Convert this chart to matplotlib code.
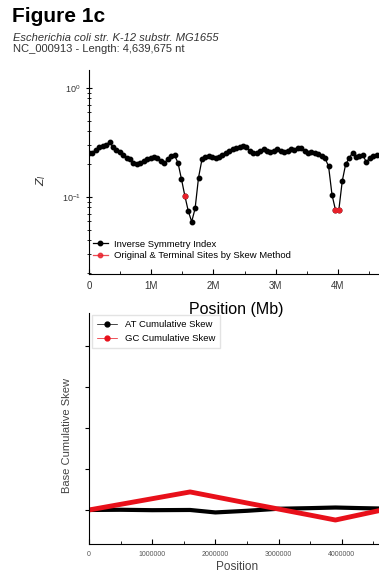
import numpy as np
import matplotlib.pyplot as plt
from matplotlib.ticker import FixedLocator, NullFormatter, LogLocator

plt.rcParams['font.family'] = ['Liberation Sans', 'DejaVu Sans']

# ==============================
# Data
# ==============================
# Inverse symmetry index, windows every 55 kb
window_step = 55000
isi_values = [
    0.25, 0.255, 0.27, 0.285, 0.295, 0.30, 0.32, 0.285, 0.27, 0.26,
    0.24, 0.225, 0.22, 0.205, 0.20, 0.205, 0.215, 0.22, 0.225, 0.23,
    0.225, 0.215, 0.205, 0.22, 0.235, 0.24, 0.205, 0.146, 0.102, 0.074,
    0.059, 0.078, 0.15, 0.22, 0.23, 0.235, 0.23, 0.225, 0.23, 0.24,
    0.255, 0.265, 0.275, 0.28, 0.285, 0.29, 0.285, 0.265, 0.25, 0.255,
    0.265, 0.275, 0.265, 0.26, 0.265, 0.275, 0.265, 0.26, 0.265, 0.275,
    0.27, 0.28, 0.28, 0.265, 0.255, 0.26, 0.255, 0.245, 0.235, 0.225,
    0.19, 0.104, 0.076, 0.076, 0.14, 0.20, 0.225, 0.255, 0.23, 0.235,
    0.24, 0.21, 0.225, 0.235, 0.24,
]
isi_pos = np.arange(len(isi_values)) * window_step

# ori / ter sites found by the skew method
site_pos = [1540000, 3960000, 4015000]
site_values = [0.102, 0.076, 0.076]

# cumulative skews
skew_pos = [0, 500000, 1000000, 1600000, 2000000, 2500000, 3000000,
            3500000, 3900000, 4300000, 4640000]
gc_skew = [0, 2750, 5500, 8800, 6400, 3400, 450, -2500, -4900, -2250, 0]
at_skew = [0, 100, -100, 0, -1200, -400, 600, 900, 1200, 900, 700]

x_ticks_top = [0, 1000000, 2000000, 3000000, 4000000]
x_labels_top = ["0", "1M", "2M", "3M", "4M"]
x_ticks_bot = [0, 1000000, 2000000, 3000000, 4000000]
x_labels_bot = ["0", "1000000", "2000000", "3000000", "4000000"]
minor_x = [500000, 1500000, 2500000, 3500000, 4500000]

# ==============================
# Figure
# ==============================
W, H = 379, 574
fig = plt.figure(figsize=(W / 100, H / 100), dpi=100)

fig.text(12 / W, 1 - 16 / H, "Figure 1c", fontsize=15, fontweight='bold',
         va='center', ha='left')
fig.text(13 / W, 1 - 38 / H, "Escherichia coli str. K-12 substr. MG1655",
         fontsize=8, style='italic', va='center', ha='left', color='#333333')
fig.text(13 / W, 1 - 48.5 / H, "NC_000913 - Length: 4,639,675 nt",
         fontsize=8, va='center', ha='left', color='#333333')

# ---------- top panel ----------
ax1 = fig.add_axes([89 / W, 1 - 274 / H, (W - 89) / W, 204 / H])
ax1.plot(isi_pos, isi_values, color='black', lw=0.9, marker='o', ms=3.2,
         label='Inverse Symmetry Index')
ax1.plot(site_pos, site_values, color='#e8202a', lw=0.9, marker='o', ms=3.2,
         ls='none', label='Original & Terminal Sites by Skew Method')
ax1.plot(site_pos[1:], site_values[1:], color='#e8202a', lw=0.9)
ax1.set_yscale('log')
ax1.set_ylim(10 ** -1.71, 10 ** 0.165)
ax1.set_xlim(0, 4.66e6)
for s in ['top', 'right']:
    ax1.spines[s].set_visible(False)
ax1.xaxis.set_major_locator(FixedLocator(x_ticks_top))
ax1.set_xticklabels(x_labels_top)
ax1.xaxis.set_minor_locator(FixedLocator(minor_x))
ax1.tick_params(axis='x', which='both', direction='in', labelsize=7, pad=5,
                labelcolor='#333333')
ax1.tick_params(axis='y', which='major', direction='inout', length=5, labelsize=6.5,
                labelcolor='#333333')
ax1.tick_params(axis='y', which='minor', direction='inout', length=2.5)
ax1.yaxis.set_minor_locator(LogLocator(base=10, subs=np.arange(2, 10)))
ax1.yaxis.set_minor_formatter(NullFormatter())
ax1.set_xlabel("Position (Mb)", fontsize=11.5)
ax1.xaxis.set_label_coords(0.507, -0.135)
ax1.set_ylabel(r"$Z_I$", fontsize=8, color='#333333')
ax1.yaxis.set_label_coords(-0.14, 0.46)
leg1 = ax1.legend(loc='lower left', bbox_to_anchor=(0.0, 0.05), fontsize=6.8,
                  frameon=False, handlelength=1.6, handletextpad=0.6,
                  borderaxespad=0.0, labelspacing=0.25)
leg1.legend_handles[1].set_linestyle('-')
leg1.legend_handles[1].set_alpha(0.8)

# ---------- bottom panel ----------
ax2 = fig.add_axes([89 / W, 1 - 544 / H, (W - 89) / W, 231 / H])
ax2.patch.set_alpha(0)
ax2.plot(skew_pos, at_skew, color='black', lw=3, label='AT Cumulative Skew',
         marker='o', ms=0.01)
ax2.plot(skew_pos, gc_skew, color='#e8101a', lw=3.5, label='GC Cumulative Skew',
         marker='o', ms=0.01)
ax2.set_xlim(0, 4.59e6)
ax2.set_ylim(-16600, 96100)
for s in ['top', 'right']:
    ax2.spines[s].set_visible(False)
ax2.xaxis.set_major_locator(FixedLocator(x_ticks_bot))
ax2.set_xticklabels(x_labels_bot)
ax2.xaxis.set_minor_locator(FixedLocator(minor_x))
ax2.tick_params(axis='x', which='both', direction='in', labelsize=5,
                labelcolor='#555555', pad=5)
ax2.set_yticks([0, 20000, 40000, 60000, 80000])
ax2.yaxis.set_major_formatter(NullFormatter())
ax2.tick_params(axis='y', which='major', direction='out', length=3)
ax2.set_xlabel("Position", fontsize=8.5, color='#444444')
ax2.xaxis.set_label_coords(0.51, -0.072)
ax2.set_ylabel("Base Cumulative Skew", fontsize=8, color='#444444')
ax2.yaxis.set_label_coords(-0.058, 0.47)
leg = ax2.legend(loc='upper left', bbox_to_anchor=(0.01, 0.99), fontsize=6.8,
                 frameon=True, fancybox=False, edgecolor='#dddddd',
                 handlelength=2.2, borderaxespad=0.0, labelspacing=0.55,
                 borderpad=0.5)
for h in leg.legend_handles:
    h.set_linewidth(0.5)
    h.set_markersize(3.5)

plt.savefig("out.png", dpi=100)
plt.close()
